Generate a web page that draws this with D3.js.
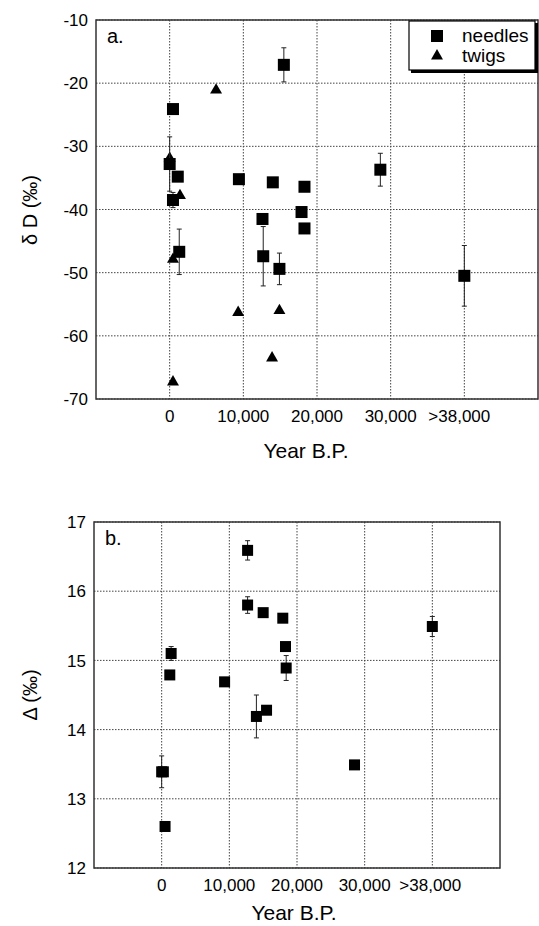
<!DOCTYPE html>
<html>
<head>
<meta charset="utf-8">
<script src="https://cdn.jsdelivr.net/npm/d3@7"></script>
<style>
  body { margin: 0; background: #fff; }
  svg { display: block; font-family: "Liberation Sans", Arial, sans-serif; }
</style>
</head>
<body>
<svg id="chart" width="539" height="926"></svg>
<script>
// x ticks (years BP), last one is the ">38,000" column
const yearTicks = [0, 10000, 20000, 30000, 40000];
const yearLabels = ['0', '10,000', '20,000', '30,000', '>38,000'];

// panel a: deuterium
const needleYear = [15500, 450, 0, 1100, 9400, 14000, 18300, 450, 17900, 12600, 18300, 1300, 12700, 14900, 28600, 40000];
const needleD    = [-17.1, -24.1, -32.8, -34.8, -35.2, -35.7, -36.4, -38.5, -40.4, -41.5, -43.0, -46.7, -47.4, -49.4, -33.7, -50.5];
const needleErr  = [2.7, 0, 4.3, 0, 0, 0, 0, 1.2, 0, 0, 0.7, 3.6, 4.7, 2.5, 2.6, 4.8];
const twigYear = [6300, 0, 1400, 450, 9300, 14900, 13900, 450];
const twigD    = [-21.1, -31.9, -37.8, -47.9, -56.3, -56.0, -63.5, -67.3];
const dTicks = [-10, -20, -30, -40, -50, -60, -70];

// panel b: carbon isotope discrimination
const discYear = [12700, 12700, 15000, 17900, 18300, 18400, 1400, 1200, 9300, 14000, 15500, 0, 250, 500, 28500, 40000];
const discVal  = [16.59, 15.80, 15.69, 15.61, 15.20, 14.89, 15.10, 14.79, 14.69, 14.19, 14.28, 13.39, 13.39, 12.60, 13.49, 15.49];
const discErr  = [0.14, 0.12, 0, 0, 0, 0.18, 0.10, 0, 0, 0.31, 0, 0.23, 0, 0, 0, 0.145];
const discTicks = [12, 13, 14, 15, 16, 17];

const svg = d3.select('#chart');

function panel(opt) {
    const g = svg.append('g');
    const x = d3.scaleLinear().domain([-10000, 50000]).range([opt.left, opt.right]);
    const y = d3.scaleLinear().domain(opt.ydomain).range([opt.bottom, opt.top]);

    // dotted grid
    g.append('g').selectAll('line').data(yearTicks).enter().append('line')
        .attr('x1', d => x(d)).attr('x2', d => x(d))
        .attr('y1', opt.top).attr('y2', opt.bottom)
        .attr('stroke', '#444').attr('stroke-width', 1).attr('stroke-dasharray', '1.5,1.5');
    g.append('g').selectAll('line').data(opt.yticks).enter().append('line')
        .attr('x1', opt.left).attr('x2', opt.right)
        .attr('y1', d => y(d)).attr('y2', d => y(d))
        .attr('stroke', '#444').attr('stroke-width', 1).attr('stroke-dasharray', '1.5,1.5');

    // frame
    g.append('rect')
        .attr('x', opt.left).attr('y', opt.top)
        .attr('width', opt.right - opt.left).attr('height', opt.bottom - opt.top)
        .attr('fill', 'none').attr('stroke', '#333').attr('stroke-width', 1.5);

    // tick labels
    g.append('g').selectAll('text').data(opt.yticks).enter().append('text')
        .attr('x', opt.left - 8).attr('y', d => y(d)).attr('dy', '0.36em')
        .attr('text-anchor', 'end').attr('font-size', 17)
        .text(d => d3.format('d')(d).replace('−', '-'));
    g.append('g').selectAll('text').data(yearTicks).enter().append('text')
        .attr('x', (d, i) => x(d) - (i === 4 ? opt.lastShift : 0)).attr('y', opt.bottom + 23)
        .attr('text-anchor', 'middle').attr('font-size', 17)
        .text((d, i) => yearLabels[i]);

    g.append('text')
        .attr('x', opt.xTitleX).attr('y', opt.bottom + opt.xTitleGap)
        .attr('text-anchor', 'middle').attr('font-size', 21)
        .text('Year B.P.');
    g.append('text')
        .attr('transform', `translate(37,${opt.yTitleY}) rotate(-90)`)
        .attr('text-anchor', 'middle').attr('font-size', 20)
        .text(opt.ytitle);
    g.append('text')
        .attr('x', opt.left + 11).attr('y', opt.top + 23)
        .attr('font-size', 20).text(opt.tag);

    return { g, x, y };
}

function errorBars(p, xs, ys, es) {
    const idx = d3.range(xs.length).filter(i => es[i] > 0);
    const eb = p.g.append('g').attr('stroke', '#222').attr('stroke-width', 1);
    eb.selectAll('.v').data(idx).enter().append('line')
        .attr('x1', i => p.x(xs[i])).attr('x2', i => p.x(xs[i]))
        .attr('y1', i => p.y(ys[i] - es[i])).attr('y2', i => p.y(ys[i] + es[i]));
    [-1, 1].forEach(s => {
        eb.selectAll('.c' + s).data(idx).enter().append('line')
            .attr('x1', i => p.x(xs[i]) - 2.5).attr('x2', i => p.x(xs[i]) + 2.5)
            .attr('y1', i => p.y(ys[i] + s * es[i])).attr('y2', i => p.y(ys[i] + s * es[i]));
    });
}

function squares(p, xs, ys, size) {
    p.g.append('g').selectAll('rect').data(d3.range(xs.length)).enter().append('rect')
        .attr('x', i => p.x(xs[i]) - size / 2).attr('y', i => p.y(ys[i]) - size / 2)
        .attr('width', size).attr('height', size).attr('fill', '#000');
}

const tri = d3.symbol().type(d3.symbolTriangle).size(62);

// panel a
const pa = panel({ left: 96, right: 538, top: 20, bottom: 399, ydomain: [-70, -10], yticks: dTicks,
    ytitle: 'δ D (‰)', yTitleY: 210, tag: 'a.', xTitleX: 306, xTitleGap: 59, lastShift: 5 });
pa.g.append('g').selectAll('path').data(d3.range(twigYear.length)).enter().append('path')
    .attr('d', tri)
    .attr('transform', i => `translate(${pa.x(twigYear[i])},${pa.y(twigD[i])})`)
    .attr('fill', '#000');
errorBars(pa, needleYear, needleD, needleErr);
squares(pa, needleYear, needleD, 12);

// legend
const lg = pa.g.append('g');
lg.append('rect').attr('x', 411).attr('y', 23).attr('width', 127).attr('height', 50).attr('fill', '#000');
lg.append('rect').attr('x', 409).attr('y', 21).attr('width', 126).attr('height', 49)
    .attr('fill', '#fff').attr('stroke', '#000').attr('stroke-width', 1.2);
lg.append('rect').attr('x', 431).attr('y', 30).attr('width', 12).attr('height', 12).attr('fill', '#000');
lg.append('path').attr('d', tri).attr('transform', 'translate(437,56)').attr('fill', '#000');
lg.append('text').attr('x', 462).attr('y', 42).attr('font-size', 19).text('needles');
lg.append('text').attr('x', 462).attr('y', 62).attr('font-size', 19).text('twigs');

// panel b
const pb = panel({ left: 94, right: 500, top: 522, bottom: 868, ydomain: [12, 17], yticks: discTicks,
    ytitle: 'Δ (‰)', yTitleY: 695, tag: 'b.', xTitleX: 294, xTitleGap: 52, lastShift: 2 });
errorBars(pb, discYear, discVal, discErr);
squares(pb, discYear, discVal, 11);
</script>
</body>
</html>
